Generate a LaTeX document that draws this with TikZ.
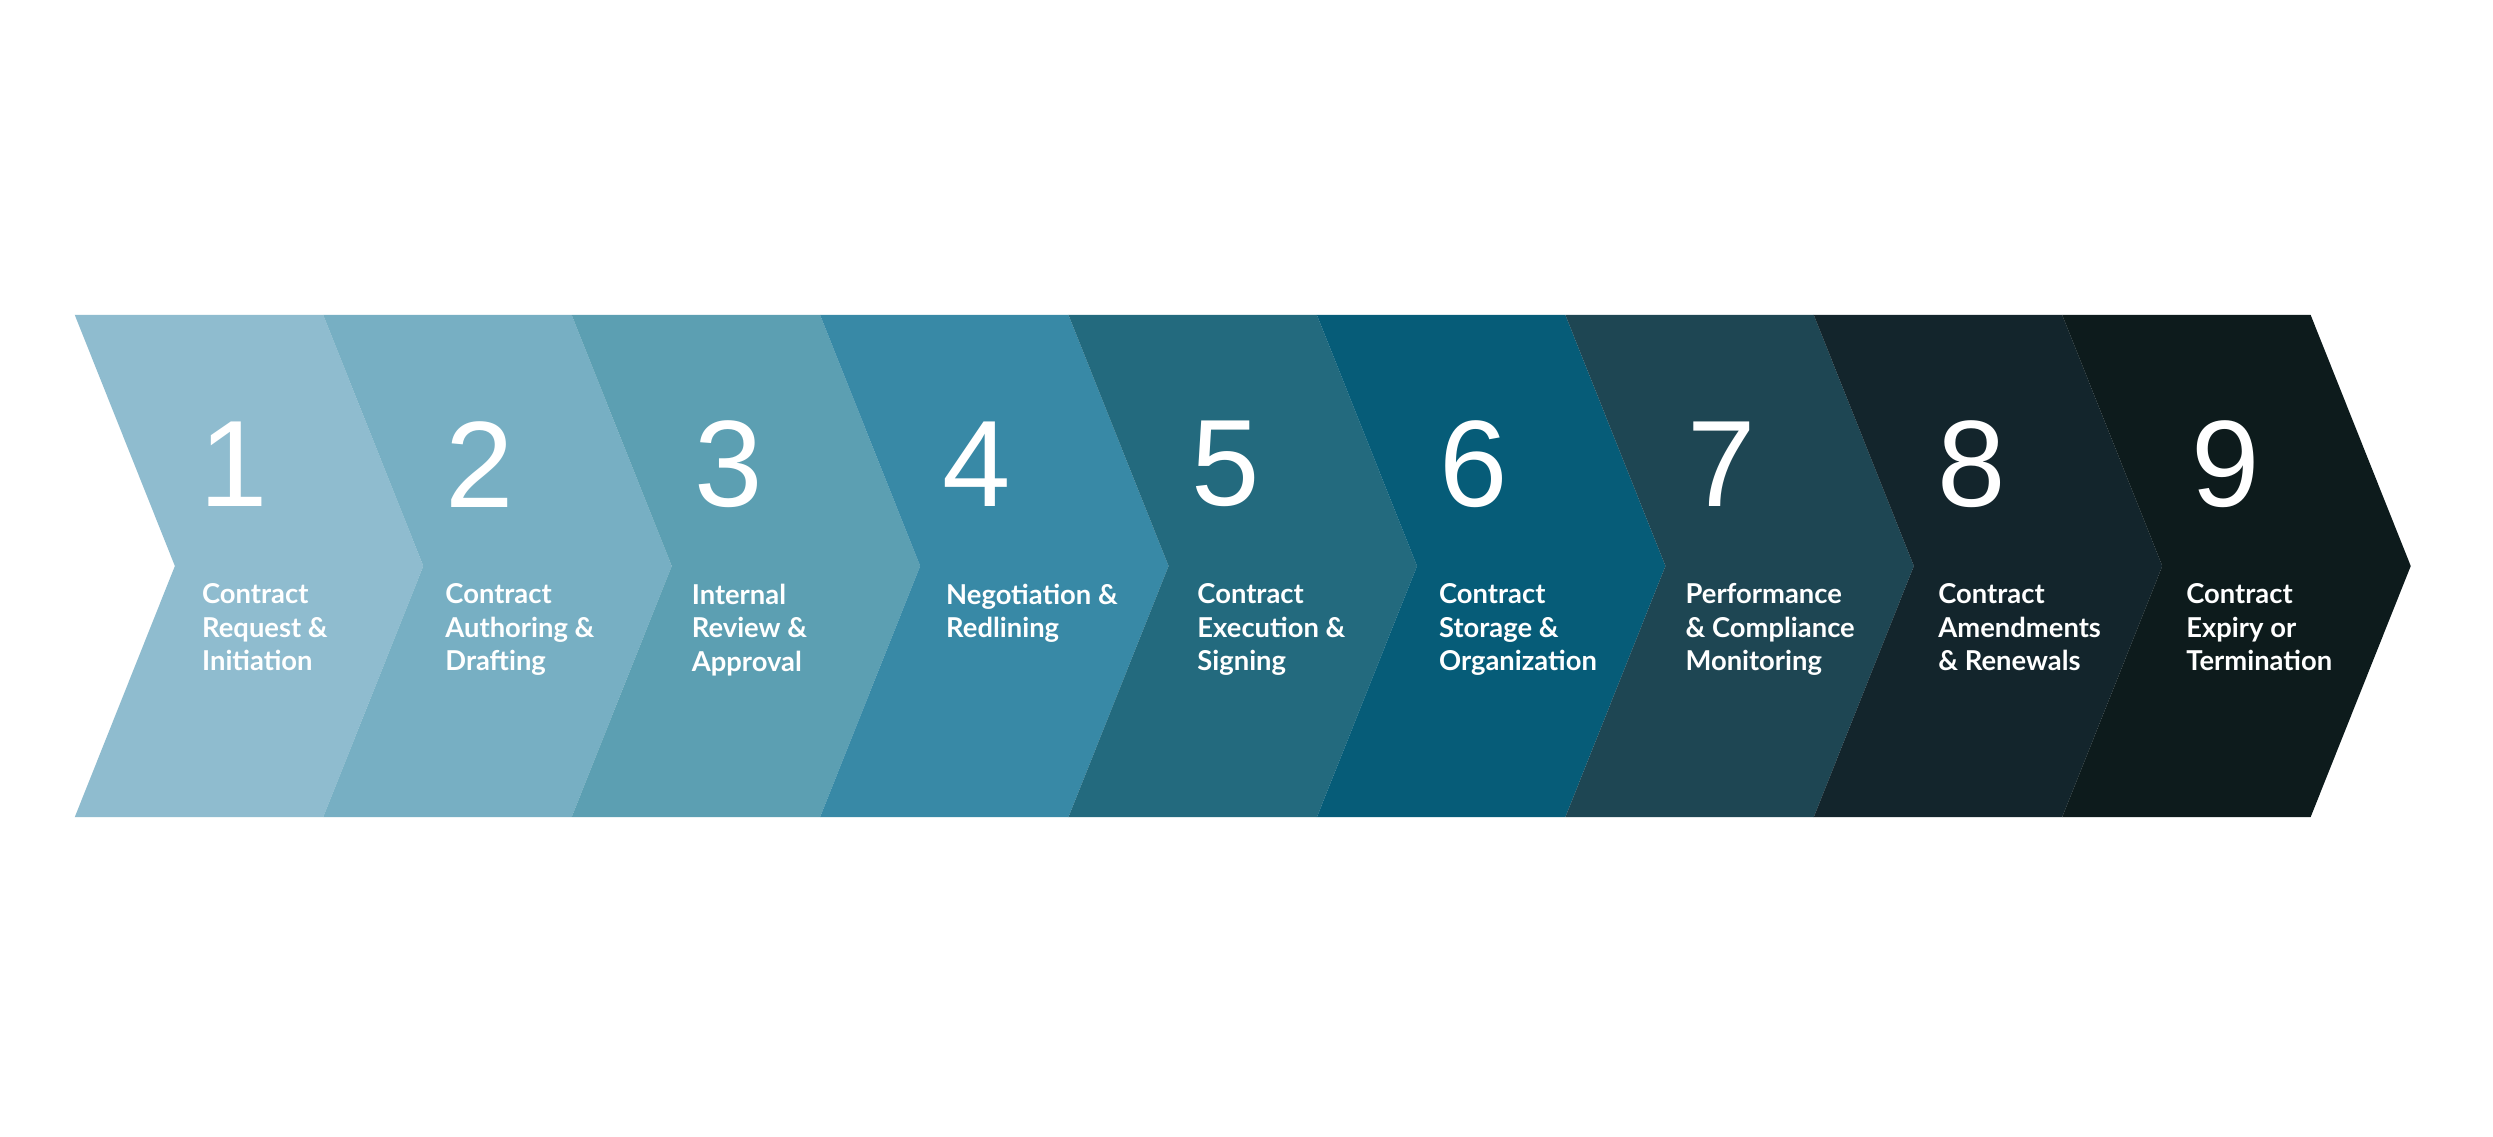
\documentclass[tikz,border=0pt]{standalone}
\usepackage{fontspec}
\setmainfont{Liberation Sans}
\newfontfamily\labfont{Lato}
\definecolor{c1}{HTML}{8FBCCF}
\definecolor{c2}{HTML}{77AFC3}
\definecolor{c3}{HTML}{5C9FB2}
\definecolor{c4}{HTML}{3889A6}
\definecolor{c5}{HTML}{236A7E}
\definecolor{c6}{HTML}{065C78}
\definecolor{c7}{HTML}{1E4653}
\definecolor{c8}{HTML}{13252C}
\definecolor{c9}{HTML}{0D1B1C}
\begin{document}
\begin{tikzpicture}[x=0.05cm,y=-0.05cm,
  numtxt/.style={text=white,inner sep=0,font=\fontsize{110}{110}\selectfont},
  labtxt/.style={text=white,inner sep=0,anchor=north west,align=left,font=\labfont\bfseries\fontsize{24.5}{30}\selectfont}]
\useasboundingbox (0,0) rectangle (1568,715);
\fill[white] (0,0) rectangle (1568,715);
\foreach \i/\nx/\tx/\lab in {
 1/147/127/{Contract\\Request \&\\Initiation},
 2/302/280/{Contract\\Authoring \&\\Drafting},
 3/458/435/{Internal\\Review \&\\Approval},
 4/614/595/{Negotiation \&\\Redlining},
 5/771/753/{Contract\\Execution \&\\Signing},
 6/927/905/{Contract\\Storage \&\\Organization},
 7/1083/1060/{Performance\\\& Compliance\\Monitoring},
 8/1240/1219/{Contract\\Amendments\\\& Renewals},
 9/1400/1375/{Contract\\Expiry or\\Termination}}{
  \pgfmathsetmacro\xo{47+156.25*(\i-1)}
  \fill[c\i] (\xo,198) -- ({\xo+156.25},198) -- ({\xo+219.25},356) -- ({\xo+156.25},514) -- (\xo,514) -- ({\xo+63},356) -- cycle;
  \node[numtxt] (n\i) at (\nx,292) {\i};
  \node[labtxt] (l\i) at (\tx,367) {\lab};
}
\end{tikzpicture}
\end{document}
